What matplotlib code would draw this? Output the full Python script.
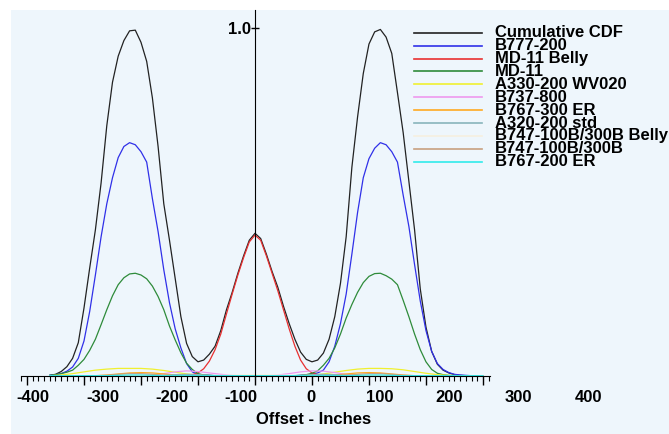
import numpy as np
import matplotlib
matplotlib.use("Agg")
import matplotlib.pyplot as plt
from matplotlib.ticker import MultipleLocator
from matplotlib.lines import Line2D
from matplotlib.patches import Rectangle

# fine offset grid (inches) for the big curves, -360 .. 400 by 10
offset_fine = list(range(-360, 401, 10))
# coarse grid for the small curves, -360 .. 400 by 20
offset = list(range(-360, 401, 20))

cumulative = [0.001, 0.004, 0.012, 0.026, 0.050, 0.095, 0.195, 0.310, 0.420, 0.555, 0.720, 0.845,
              0.920, 0.965, 0.993, 0.995, 0.960, 0.905, 0.800, 0.660, 0.495, 0.390, 0.280, 0.170,
              0.093, 0.055, 0.040, 0.045, 0.062, 0.085, 0.130, 0.190, 0.240, 0.295, 0.345, 0.390,
              0.410,
              0.395, 0.350, 0.300, 0.255, 0.200, 0.150, 0.105, 0.068, 0.047, 0.040, 0.045, 0.065,
              0.105, 0.170, 0.266, 0.400, 0.600, 0.745, 0.870, 0.955, 0.990, 0.997, 0.975, 0.928,
              0.815, 0.700, 0.560, 0.420, 0.250, 0.140, 0.070, 0.033, 0.016, 0.008, 0.003, 0.001,
              0, 0, 0, 0]
b777 = ([0.001, 0.003, 0.006, 0.013, 0.025, 0.050, 0.100, 0.185, 0.290, 0.400, 0.495, 0.570,
         0.628, 0.660, 0.671, 0.665, 0.645, 0.615, 0.510, 0.415, 0.305, 0.210, 0.135, 0.080,
         0.035, 0.011, 0.004, 0.002, 0.001] + [0] * 15 +
        [0.001, 0.002, 0.004, 0.008, 0.016, 0.040, 0.085, 0.150, 0.235, 0.350, 0.470, 0.570,
         0.625, 0.655, 0.671, 0.665, 0.645, 0.615, 0.520, 0.430, 0.320, 0.215, 0.130, 0.070,
         0.035, 0.018, 0.009, 0.004, 0.002, 0.001] + [0] * 3)
md11_belly = ([0] * 24 +
              [0.001, 0.003, 0.008, 0.020, 0.042, 0.075, 0.120, 0.178, 0.235, 0.290, 0.340, 0.385,
               0.405, 0.390, 0.345, 0.295, 0.245, 0.190, 0.135, 0.085, 0.045, 0.020, 0.008, 0.003,
               0.001] + [0] * 28)
md11 = ([0.001, 0.003, 0.006, 0.010, 0.016, 0.030, 0.047, 0.073, 0.105, 0.147, 0.190, 0.230,
         0.262, 0.282, 0.293, 0.295, 0.290, 0.279, 0.258, 0.228, 0.190, 0.143, 0.103, 0.066,
         0.036, 0.018, 0.006, 0.002, 0.001] + [0] * 15 +
        [0.001, 0.003, 0.007, 0.014, 0.030, 0.050, 0.080, 0.120, 0.166, 0.205, 0.240, 0.268,
         0.286, 0.294, 0.295, 0.288, 0.278, 0.262, 0.217, 0.170, 0.120, 0.075, 0.040, 0.018,
         0.007, 0.003, 0.001] + [0] * 6)

a330 = [0, 0.002, 0.006, 0.011, 0.016, 0.019, 0.021, 0.021, 0.021, 0.019, 0.015, 0.010, 0.005,
        0.002, 0, 0, 0, 0, 0, 0, 0, 0, 0, 0.002, 0.005, 0.010,
        0.015, 0.019, 0.021, 0.021, 0.020, 0.017, 0.012, 0.007, 0.003, 0.001, 0, 0, 0]
b737 = [0, 0, 0, 0, 0, 0, 0, 0, 0, 0.002, 0.006, 0.011, 0.014,
        0.012, 0.008, 0.004, 0.001, 0, 0, 0, 0.002, 0.006, 0.011, 0.014, 0.013, 0.009,
        0.004, 0.001, 0, 0, 0, 0, 0, 0, 0, 0, 0, 0, 0]
b767_300 = [0, 0, 0, 0, 0, 0.002, 0.005, 0.008, 0.009, 0.008, 0.005, 0.002, 0,
            0, 0, 0, 0, 0, 0, 0, 0, 0, 0, 0, 0, 0.002,
            0.005, 0.008, 0.009, 0.008, 0.005, 0.002, 0, 0, 0, 0, 0, 0, 0]
a320 = [0, 0, 0, 0, 0, 0, 0, 0, 0, 0, 0.001, 0.003, 0.004,
        0.003, 0.001, 0, 0, 0, 0, 0, 0, 0, 0.001, 0.003, 0.004, 0.003,
        0.001, 0, 0, 0, 0, 0, 0, 0, 0, 0, 0, 0, 0]
b747_belly = [0, 0, 0, 0, 0, 0, 0, 0, 0, 0, 0, 0, 0,
              0, 0, 0.001, 0.002, 0.003, 0.003, 0.003, 0.002, 0.001, 0, 0, 0, 0,
              0, 0, 0, 0, 0, 0, 0, 0, 0, 0, 0, 0, 0]
b747 = [0, 0, 0, 0, 0, 0.001, 0.004, 0.006, 0.006, 0.004, 0.001, 0, 0,
        0, 0, 0, 0, 0, 0, 0, 0, 0, 0, 0, 0, 0,
        0.001, 0.004, 0.006, 0.006, 0.004, 0.001, 0, 0, 0, 0, 0, 0, 0]
b767_200 = [0, 0, 0, 0, 0, 0, 0.001, 0.002, 0.002, 0.001, 0, 0, 0,
            0, 0, 0, 0, 0, 0, 0, 0, 0, 0, 0, 0, 0,
            0, 0.001, 0.002, 0.002, 0.001, 0, 0, 0, 0, 0, 0, 0, 0]

names = ["Cumulative CDF", "B777-200", "MD-11 Belly", "MD-11", "A330-200 WV020", "B737-800",
         "B767-300 ER", "A320-200 std", "B747-100B/300B Belly", "B747-100B/300B", "B767-200 ER"]
series = [cumulative, b777, md11_belly, md11, a330, b737, b767_300, a320, b747_belly, b747, b767_200]
colors = ["#222222", "#3030e8", "#e83030", "#2e8b3a", "#f0f030", "#ee99ee", "#ffaa22",
          "#88b4bc", "#f6efe0", "#c8a080", "#30eaea"]

tick_text = ["-400", "-300", "-200", "-100", "0", "100", "200", "300", "400"]

W, H = 669, 434
font = dict(family="Liberation Sans", weight="bold", size=12)

fig = plt.figure(figsize=(W / 100, H / 100), dpi=100, facecolor="white")
fig.add_artist(Rectangle((11 / W, 0), 1, 1 - 10 / H, transform=fig.transFigure,
                         facecolor="#eef6fc", edgecolor="none", zorder=-10))

ax = fig.add_axes([21.3 / W, (H - 375.7) / H, 468.5 / W, 365.7 / H])
ax.set_facecolor("none")

for ys, c in zip(series, colors):
    xs = offset_fine if len(ys) == len(offset_fine) else offset
    ax.plot(xs, ys, color=c, lw=0.9)

ax.set_xlim(-410, 412)
ax.set_ylim(0, 1.053)
ax.spines["top"].set_visible(False)
ax.spines["right"].set_visible(False)
ax.spines["left"].set_position(("data", 0))
ax.xaxis.set_major_locator(MultipleLocator(100))
ax.xaxis.set_minor_locator(MultipleLocator(10))
ax.tick_params(axis="x", which="major", direction="out", length=6.5, width=1, labelbottom=False)
ax.tick_params(axis="x", which="minor", direction="out", length=3.5, width=0.8)
ax.set_yticks([1.0])
ax.set_yticklabels(["1.0"], fontdict=font)
ax.tick_params(axis="y", direction="inout", length=6, width=1, pad=0)

# x labels sit on their own spacing, as in the source picture
for i, t in enumerate(tick_text):
    fig.text((33 + 69.4 * i) / W, 1 - 398 / H, t, ha="center", va="center", **font)
fig.text(314 / W, 1 - 420 / H, "Offset - Inches", ha="center", va="center", **font)

# legend
for i, (n, c) in enumerate(zip(names, colors)):
    y = 1 - (32.7 + 12.9 * i) / H
    fig.add_artist(Line2D([414 / W, 482 / W], [y, y], color=c, lw=1.2, transform=fig.transFigure))
    fig.text(495 / W, y, n, ha="left", va="center", **font)

fig.savefig("out.png", dpi=100, facecolor=fig.get_facecolor())
